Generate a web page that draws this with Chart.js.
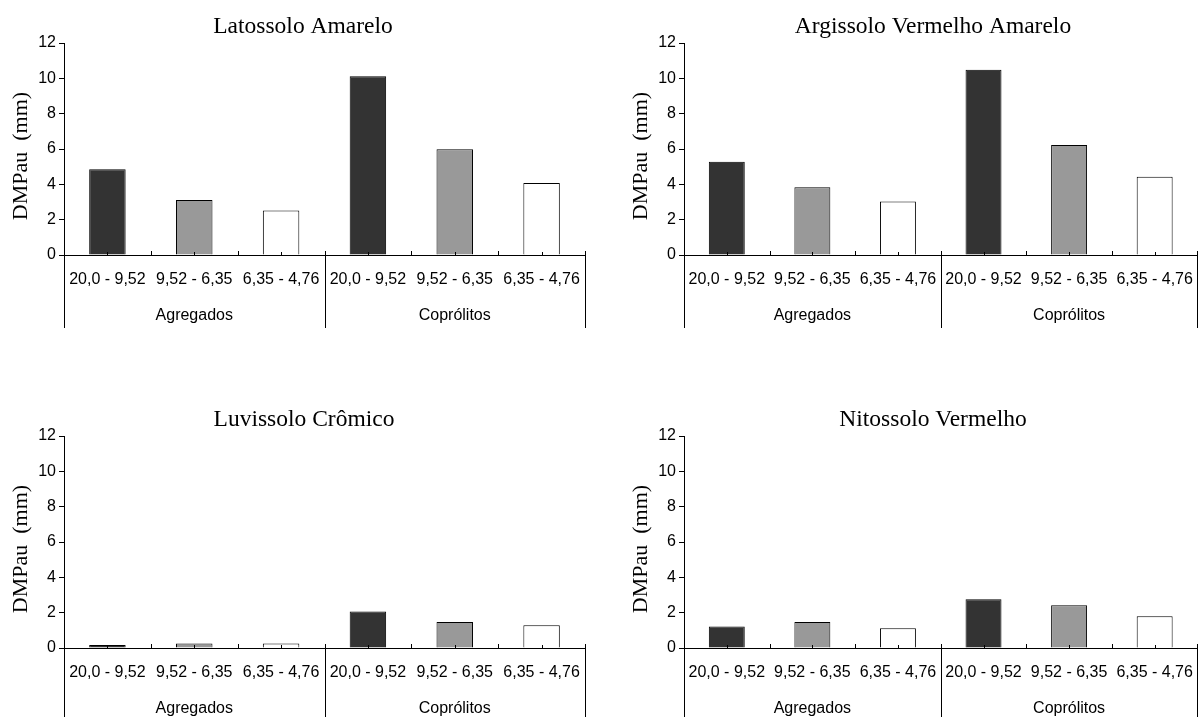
<!DOCTYPE html>
<html>
<head>
<meta charset="utf-8">
<script src="https://cdn.jsdelivr.net/npm/chart.js@4.4.1/dist/chart.umd.min.js"></script>
<style>
  html, body { margin:0; padding:0; background:#ffffff; }
  body { width:1200px; height:717px; position:relative; overflow:hidden; }
  canvas { position:absolute; }
</style>
</head>
<body>
<canvas id="c1"></canvas>
<canvas id="c2"></canvas>
<canvas id="c3"></canvas>
<canvas id="c4"></canvas>
<script>
// ---- DATA ----
const categories = ['20,0 - 9,52', '9,52 - 6,35', '6,35 - 4,76', '20,0 - 9,52', '9,52 - 6,35', '6,35 - 4,76'];
const groups = ['Agregados', 'Coprólitos'];
const yTickValues = [0, 2, 4, 6, 8, 10, 12];
const yAxisTitle = 'DMPau  (mm)';
const titles = ['Latossolo Amarelo', 'Argissolo Vermelho Amarelo', 'Luvissolo Crômico', 'Nitossolo Vermelho'];
const latossoloAmarelo = [4.85, 3.12, 2.52, 10.12, 5.98, 4.07];
const argissoloVermelhoAmarelo = [5.28, 3.83, 3.03, 10.48, 6.23, 4.43];
const luvissoloCromico = [0.17, 0.26, 0.26, 2.06, 1.47, 1.29];
const nitossoloVermelho = [1.21, 1.47, 1.12, 2.76, 2.42, 1.80];

// ---- STYLE / LAYOUT ----
const barColors = ['#333333', '#999999', '#ffffff', '#333333', '#999999', '#ffffff'];
const sansFont = '"Liberation Sans", Arial, sans-serif';
const serifFont = '"Liberation Serif", "Times New Roman", serif';
const panels = [
  { id:'c1', data: latossoloAmarelo,          title: titles[0], left:0,   top:0,   w:600, h:335, axisW:64, padTop:43, padRight:15, xH:80, titleX:303, titleY:27, sepLen:73 },
  { id:'c2', data: argissoloVermelhoAmarelo,  title: titles[1], left:600, top:0,   w:600, h:335, axisW:84, padTop:43, padRight:1,  xH:80, titleX:333, titleY:27, sepLen:73 },
  { id:'c3', data: luvissoloCromico,          title: titles[2], left:0,   top:393, w:600, h:324, axisW:64, padTop:43, padRight:15, xH:69, titleX:304, titleY:27, sepLen:73 },
  { id:'c4', data: nitossoloVermelho,         title: titles[3], left:600, top:393, w:600, h:324, axisW:84, padTop:43, padRight:1,  xH:69, titleX:333, titleY:27, sepLen:73 }
];

const decorPlugin = {
  id: 'decor',
  afterDraw(chart, args, opts) {
    const ctx = chart.ctx;
    const x = chart.scales.x;
    const area = chart.chartArea;
    ctx.save();
    // title
    ctx.fillStyle = '#000';
    ctx.font = '23.5px ' + serifFont;
    ctx.textAlign = 'center';
    ctx.textBaseline = 'middle';
    ctx.fillText(opts.title, opts.titleX, opts.titleY);
    // y axis title
    ctx.save();
    ctx.translate(area.left - 43, (area.top + area.bottom) / 2 + 7);
    ctx.rotate(-Math.PI / 2);
    ctx.font = '22px ' + serifFont;
    ctx.fillText(yAxisTitle, 0, 0);
    ctx.restore();
    // category boundaries and tick marks
    ctx.strokeStyle = '#000';
    ctx.lineWidth = 1;
    const n = categories.length;
    for (let i = 0; i <= n; i++) {
      const px = Math.round(x.getPixelForValue(i - 0.5)) + 0.5;
      ctx.beginPath();
      ctx.moveTo(px, area.bottom - 4);
      ctx.lineTo(px, i % 3 === 0 ? area.bottom + opts.sepLen : area.bottom);
      ctx.stroke();
    }
    for (let i = 0; i < n; i++) {
      const px = Math.round(x.getPixelForValue(i)) + 0.5;
      ctx.beginPath();
      ctx.moveTo(px, area.bottom - 3);
      ctx.lineTo(px, area.bottom);
      ctx.stroke();
    }
    // group labels
    ctx.font = '16px ' + sansFont;
    groups.forEach((g, gi) => {
      const cx = (x.getPixelForValue(gi * 3 - 0.5) + x.getPixelForValue(gi * 3 + 2.5)) / 2;
      ctx.fillText(g, cx, area.bottom + 61);
    });
    ctx.restore();
  }
};

panels.forEach(p => {
  const cv = document.getElementById(p.id);
  cv.style.left = p.left + 'px';
  cv.style.top = p.top + 'px';
  cv.width = p.w; cv.height = p.h;
  cv.style.width = p.w + 'px'; cv.style.height = p.h + 'px';
  new Chart(cv, {
    type: 'bar',
    data: {
      labels: categories,
      datasets: [{
        data: p.data,
        backgroundColor: barColors,
        borderColor: '#000',
        borderWidth: 1,
        categoryPercentage: 1.0,
        barPercentage: 0.42
      }]
    },
    options: {
      responsive: false,
      animation: false,
      devicePixelRatio: 1,
      layout: { padding: { left: 0, top: p.padTop, right: p.padRight, bottom: 0 } },
      plugins: {
        legend: { display: false },
        tooltip: { enabled: false },
        title: { display: false },
        decor: { title: p.title, titleX: p.titleX, titleY: p.titleY, sepLen: p.sepLen }
      },
      scales: {
        x: {
          grid: { display: false },
          border: { display: true, color: '#000', width: 1 },
          ticks: {
            color: '#000',
            font: { family: sansFont, size: 16 },
            padding: 7,
            maxRotation: 0,
            autoSkip: false
          },
          afterFit(scale) { scale.height = p.xH; }
        },
        y: {
          min: 0, max: 12,
          afterBuildTicks(scale) { scale.ticks = yTickValues.map(v => ({ value: v })); },
          grid: { drawOnChartArea: false, drawTicks: true, tickLength: 5, color: '#000' },
          border: { display: true, color: '#000', width: 1 },
          ticks: {
            color: '#000',
            font: { family: sansFont, size: 16 },
            padding: 3
          },
          afterFit(scale) { scale.width = p.axisW; }
        }
      }
    },
    plugins: [decorPlugin]
  });
});
</script>
</body>
</html>
